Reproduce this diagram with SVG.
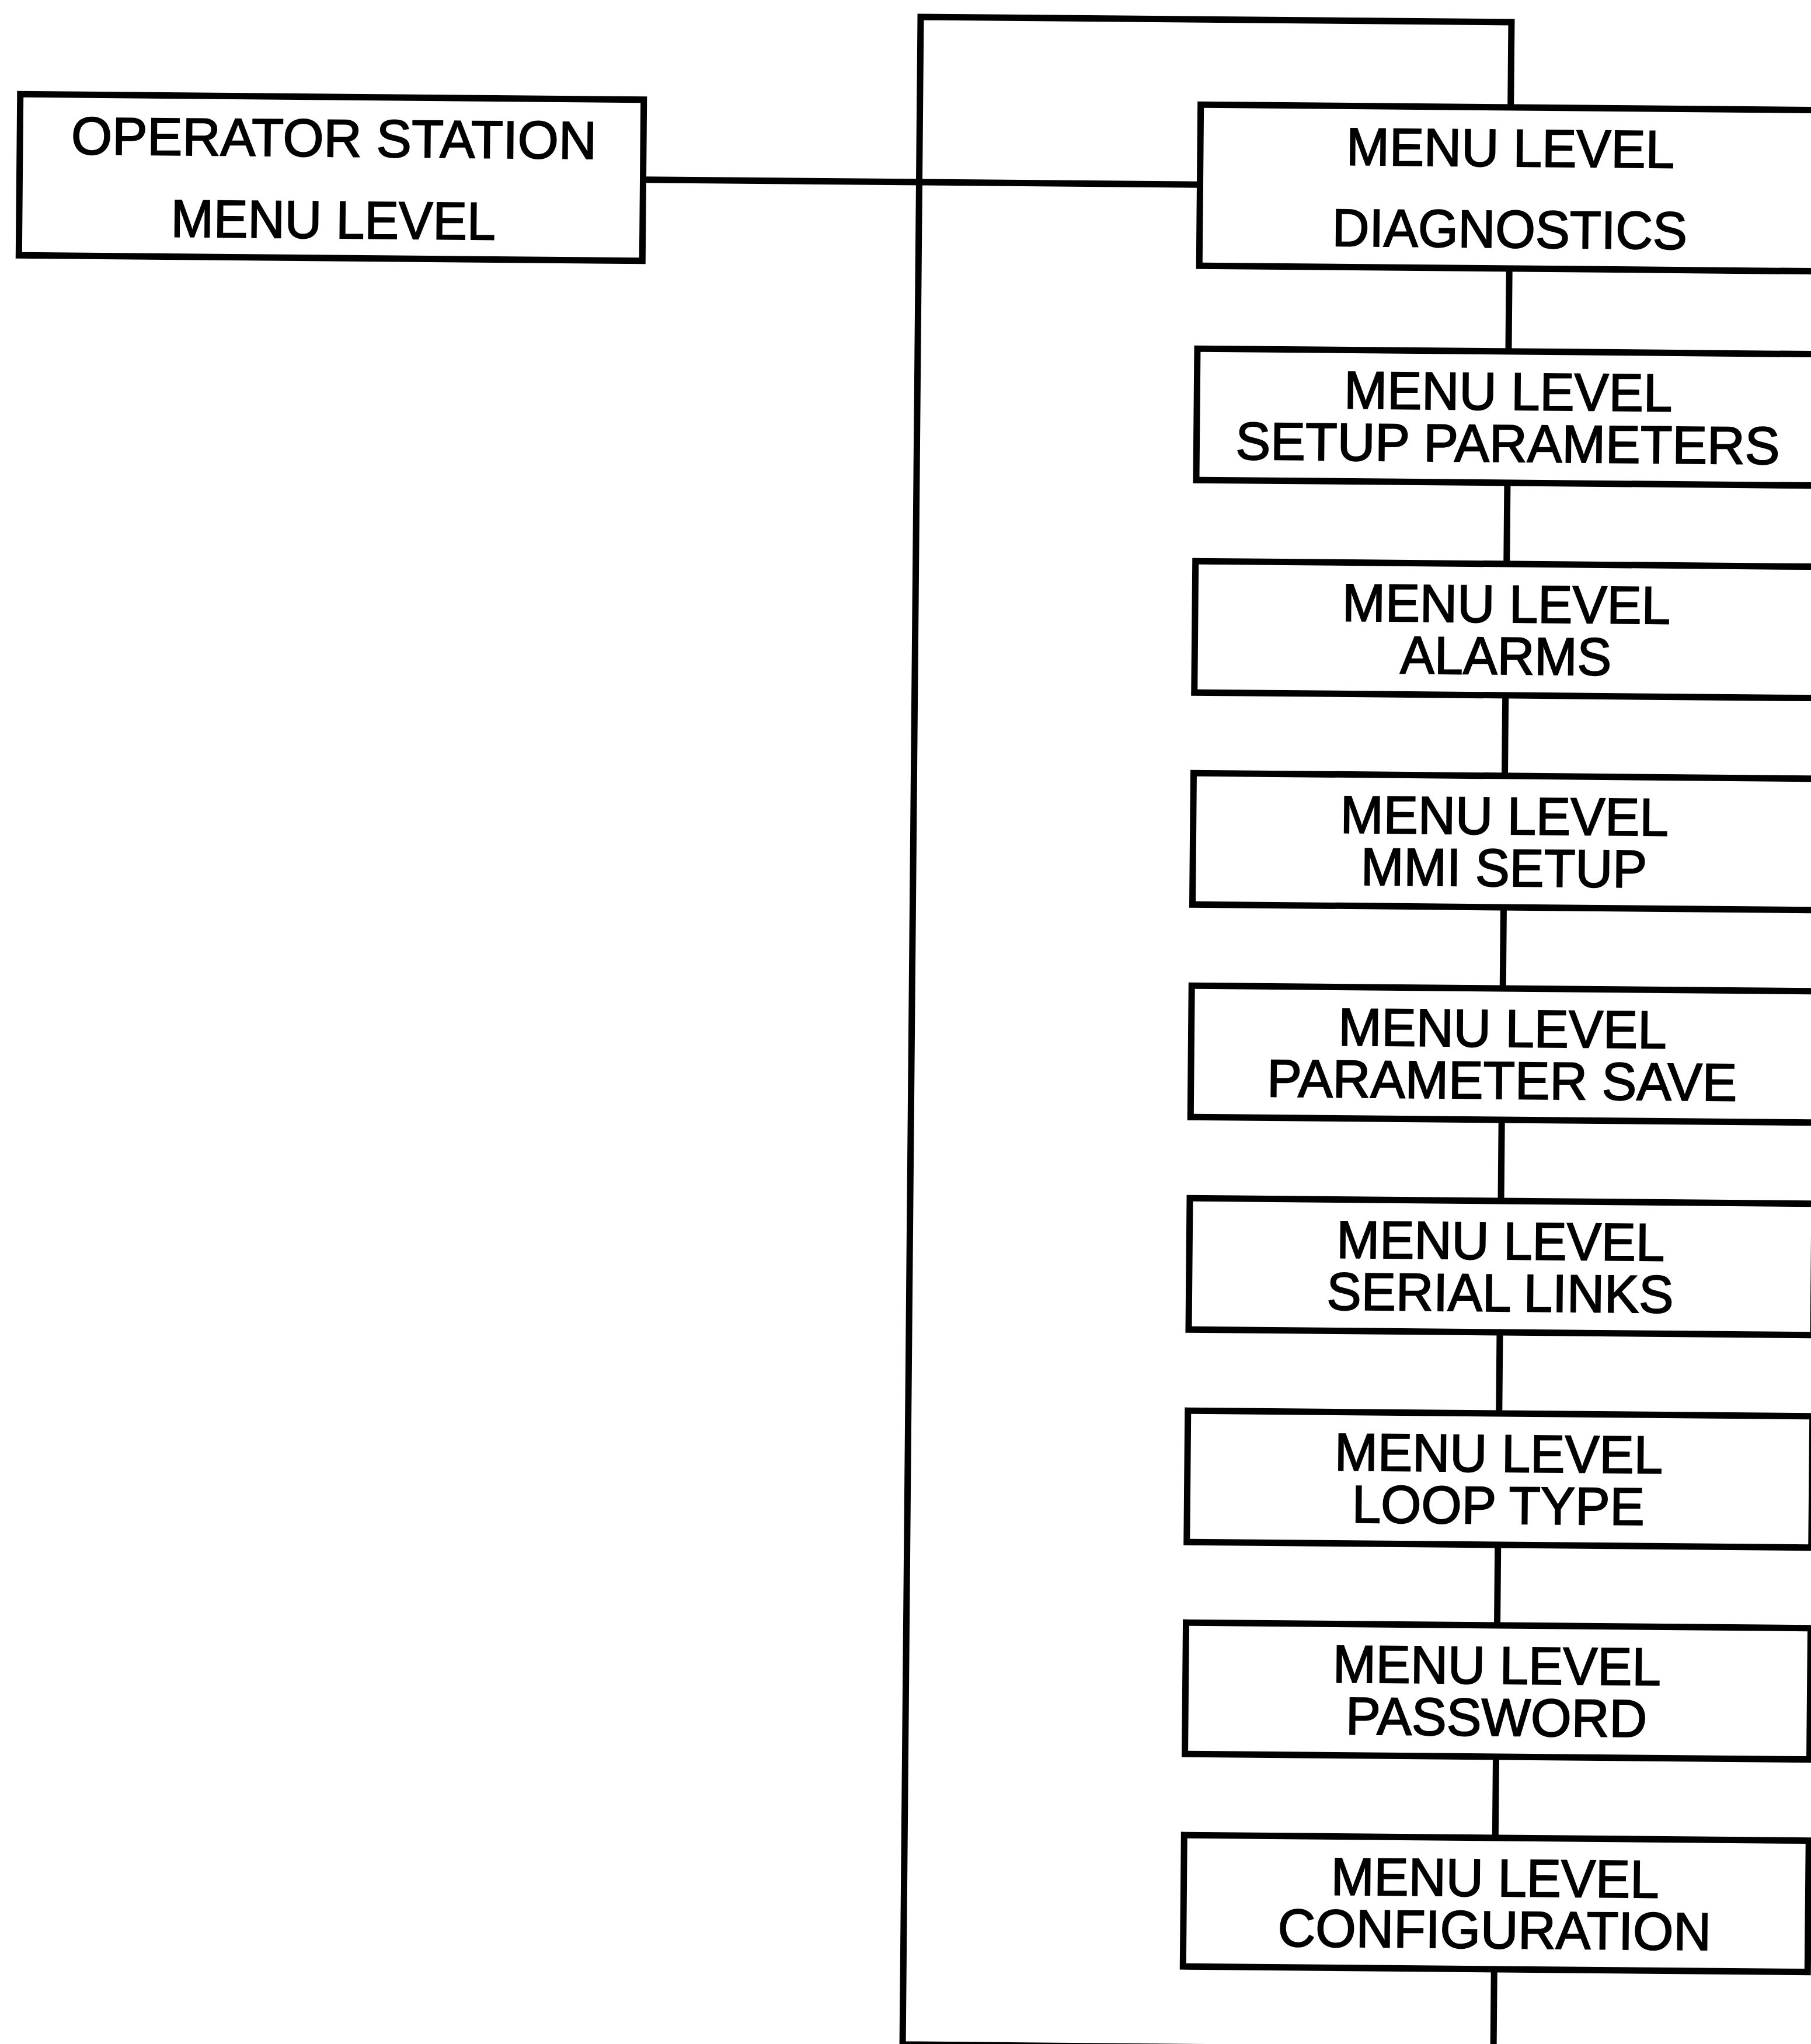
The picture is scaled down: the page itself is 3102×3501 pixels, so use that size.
<svg xmlns="http://www.w3.org/2000/svg" width="3102" height="3501" viewBox="0 0 3102 3501">
<style>
.box{fill:#fff;stroke:#000;stroke-width:11}
.wire{fill:none;stroke:#000;stroke-width:11}
text{font-family:"Liberation Sans",Arial,Helvetica,sans-serif;font-size:91px;fill:#000;stroke:#000;stroke-width:2;text-anchor:middle}
</style>
<rect width="3102" height="3501" fill="#fff"/>
<g transform="rotate(0.51 1577 29)">
<g id="connectors">
<path class="wire" d="M1104 312 H2056"/>
<path class="wire" d="M2589 175 V29 H1577 V3502 H2589 V3364"/>
<path class="wire" d="M2589 451 V593 M2589 818 V957 M2589 1182 V1320 M2589 1545 V1684 M2589 1909 V2048 M2589 2273 V2412 M2589 2637 V2775 M2589 3000 V3139"/>
</g>
<g id="operator-station">
<rect class="box" x="36" y="175" width="1068" height="276"/>
<text x="574" y="277" textLength="900" lengthAdjust="spacingAndGlyphs">OPERATOR STATION</text>
<text x="574" y="417" textLength="556" lengthAdjust="spacingAndGlyphs">MENU LEVEL</text>
</g>
<g id="diagnostics">
<rect class="box" x="2058" y="175" width="1068" height="276"/>
<text x="2589" y="276" textLength="562" lengthAdjust="spacingAndGlyphs">MENU LEVEL</text>
<text x="2589" y="415" textLength="608" lengthAdjust="spacingAndGlyphs">DIAGNOSTICS</text>
</g>
<g id="setup-parameters">
<rect class="box" x="2056" y="593" width="1070" height="225"/>
<text x="2589" y="693" textLength="562" lengthAdjust="spacingAndGlyphs">MENU LEVEL</text>
<text x="2589" y="782" textLength="932" lengthAdjust="spacingAndGlyphs">SETUP PARAMETERS</text>
</g>
<g id="alarms">
<rect class="box" x="2056" y="957" width="1070" height="225"/>
<text x="2589" y="1057" textLength="562" lengthAdjust="spacingAndGlyphs">MENU LEVEL</text>
<text x="2589" y="1146" textLength="362" lengthAdjust="spacingAndGlyphs">ALARMS</text>
</g>
<g id="mmi-setup">
<rect class="box" x="2056" y="1320" width="1070" height="225"/>
<text x="2589" y="1420" textLength="562" lengthAdjust="spacingAndGlyphs">MENU LEVEL</text>
<text x="2589" y="1509" textLength="490" lengthAdjust="spacingAndGlyphs">MMI SETUP</text>
</g>
<g id="parameter-save">
<rect class="box" x="2056" y="1684" width="1070" height="225"/>
<text x="2589" y="1784" textLength="562" lengthAdjust="spacingAndGlyphs">MENU LEVEL</text>
<text x="2589" y="1873" textLength="805" lengthAdjust="spacingAndGlyphs">PARAMETER SAVE</text>
</g>
<g id="serial-links">
<rect class="box" x="2056" y="2048" width="1070" height="225"/>
<text x="2589" y="2148" textLength="562" lengthAdjust="spacingAndGlyphs">MENU LEVEL</text>
<text x="2589" y="2237" textLength="594" lengthAdjust="spacingAndGlyphs">SERIAL LINKS</text>
</g>
<g id="loop-type">
<rect class="box" x="2056" y="2412" width="1070" height="225"/>
<text x="2589" y="2512" textLength="562" lengthAdjust="spacingAndGlyphs">MENU LEVEL</text>
<text x="2589" y="2601" textLength="501" lengthAdjust="spacingAndGlyphs">LOOP TYPE</text>
</g>
<g id="password">
<rect class="box" x="2056" y="2775" width="1070" height="225"/>
<text x="2589" y="2875" textLength="562" lengthAdjust="spacingAndGlyphs">MENU LEVEL</text>
<text x="2589" y="2964" textLength="516" lengthAdjust="spacingAndGlyphs">PASSWORD</text>
</g>
<g id="configuration">
<rect class="box" x="2056" y="3139" width="1070" height="225"/>
<text x="2589" y="3239" textLength="562" lengthAdjust="spacingAndGlyphs">MENU LEVEL</text>
<text x="2589" y="3328" textLength="742" lengthAdjust="spacingAndGlyphs">CONFIGURATION</text>
</g>
</g>
</svg>
